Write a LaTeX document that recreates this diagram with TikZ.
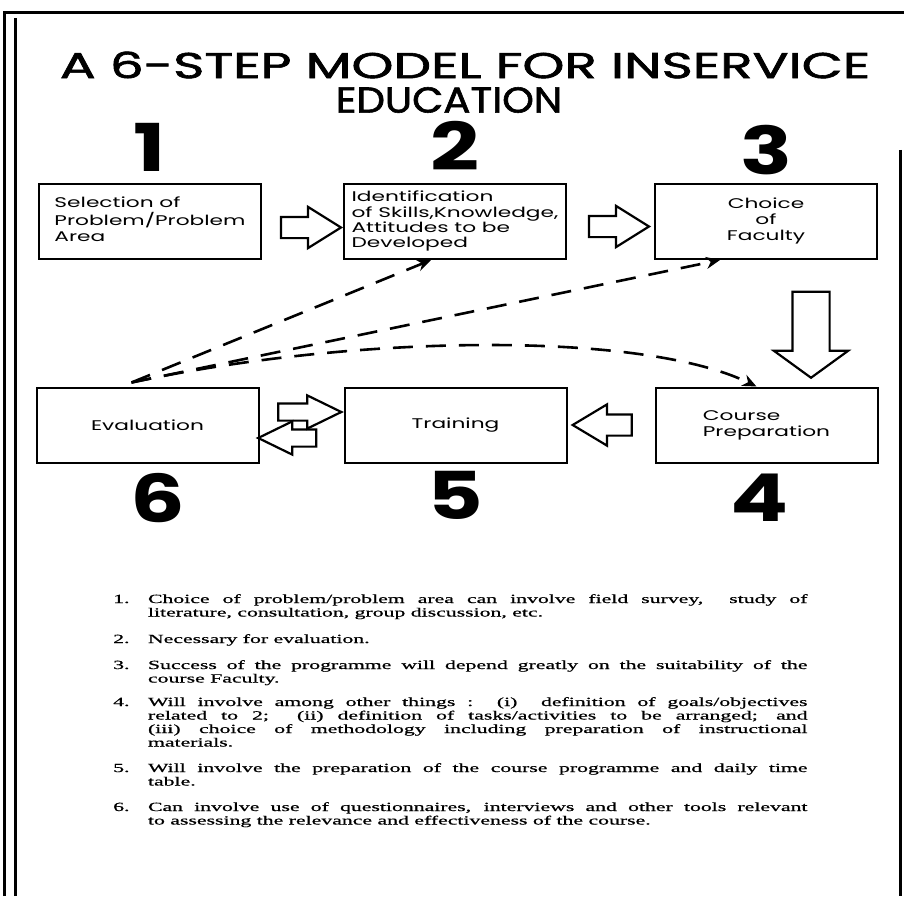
\documentclass[tikz,border=0pt]{standalone}
\usepackage{fontspec}
\setmainfont{Liberation Serif}
\setsansfont{Poppins}
\newfontfamily\headfont[FakeBold=1.6]{Poppins}
\newfontfamily\notefont[FakeBold=0.6]{Liberation Serif}
\usetikzlibrary{positioning,calc,shapes.arrows,arrows.meta}

\newcommand{\wide}[2][1.55]{\scalebox{#1}[1]{#2}}
\newcommand{\notepar}[2]{\scalebox{1.74}[1]{\parbox[t]{399pt}{\hangindent=20pt\hangafter=1\noindent\makebox[20pt][l]{#1}#2}}}

\begin{document}
\begin{tikzpicture}[x=1pt, y=-1pt,
    stage/.style={draw, line width=2pt, minimum width=222pt, minimum height=75pt, inner sep=0pt, font=\sffamily\fontsize{14}{16}\selectfont},
    stepno/.style={inner sep=0pt, font=\sffamily\bfseries\fontsize{66}{66}\selectfont},
    headline/.style={inner sep=0pt, font=\headfont\fontsize{36}{36}\selectfont},
    blockarrow/.style={single arrow, draw, line width=2.2pt, inner sep=0pt, inner ysep=9.5pt, single arrow head extend=10pt},
    feedback/.style={dash pattern=on 20pt off 13pt, line width=2.6pt, -{Stealth[length=14pt,width=12pt]}},
    frame/.style={line width=3pt},
    note/.style={anchor=base west, inner sep=0pt, font=\notefont\fontsize{12.5}{13.5}\selectfont}]

  \useasboundingbox (0,0) rectangle (904,896);

  % border of the page
  \draw[frame] (4,896) -- (4,13) -- (904,13);
  \draw[frame] (15,896) -- (15,18);
  \draw[frame] (900,150) -- (900,896);

  % title
  \node[headline] (title1) at (465,65)  {\wide[1.48]{A 6-STEP MODEL FOR INSERVICE}};
  \node[headline] (title2) at (449,100) {\wide[1.12]{EDUCATION}};

  % the six stages
  \node[stage] (sel) at (150,221.5) {\wide{\begin{tabular}{@{}l@{}}Selection of\\Problem/Problem\\Area\end{tabular}}};
  \node[stage, right=81pt of sel, font=\sffamily\fontsize{14}{15}\selectfont] (ident) {\wide{\begin{tabular}{@{}l@{}}Identification\\of Skills,Knowledge,\\Attitudes to be\\Developed\end{tabular}}};
  \node[stage, right=87pt of ident] (fac) {\wide{\begin{tabular}{@{}c@{}}Choice\\of\\Faculty\end{tabular}}};

  \node[stage] (eval) at (147.5,425) {\wide{Evaluation}};
  \node[stage, right=84pt of eval] (train) {\wide{Training}};
  \node[stage, right=87pt of train] (prep) {\wide{\begin{tabular}{@{}l@{}}Course\\Preparation\end{tabular}}};

  % step numbers
  \node[stepno, above=11pt of sel]   (no1) {\wide[1.3]{1}};
  \node[stepno, above=12pt of ident] (no2) {\wide[1.3]{2}};
  \node[stepno, above=8pt of fac]    (no3) {\wide[1.3]{3}};
  \node[stepno, below=10pt of eval, xshift=10pt]  (no6) {\wide[1.3]{6}};
  \node[stepno, below=8pt of train]  (no5) {\wide[1.3]{5}};
  \node[stepno, below=10pt of prep, xshift=-7pt]  (no4) {\wide[1.3]{4}};

  % block arrows between the stages
  \node[blockarrow, minimum height=60pt, single arrow tip angle=64] (a12) at ($(sel.east)!0.5!(ident.west)+(0,6)$) {};
  \node[blockarrow, minimum height=60pt, single arrow tip angle=64] (a23) at ($(ident.east)!0.5!(fac.west)+(0,5)$) {};
  \node[blockarrow, minimum height=86pt, inner ysep=17.5pt, single arrow head extend=18.5pt, single arrow tip angle=108, rotate=-90] (a34) at (811,328) {};
  \node[blockarrow, minimum height=59pt, single arrow tip angle=62, rotate=180] (a45) at ($(train.east)!0.5!(prep.west)$) {};
  \node[blockarrow, minimum height=63pt, inner ysep=7.5pt, single arrow head extend=8pt, single arrow tip angle=52] (a65) at (301,412) {};
  \node[blockarrow, minimum height=58pt, inner ysep=7.5pt, single arrow head extend=8pt, single arrow tip angle=52, rotate=180] (a56) at (296,438) {};

  % feedback from evaluation
  \coordinate (src) at ([xshift=-16pt,yshift=4pt]eval.north);
  \draw[feedback] (src) -- ([xshift=-24pt]ident.south);
  \draw[feedback] (src) -- ([xshift=-46pt]fac.south);
  \draw[feedback] (src) .. controls (350,335) and (640,330) .. ([xshift=-10pt]prep.north);

  % notes
  \node[note] (note1) at (113,603) {\notepar{1.}{Choice of problem/problem area can involve field survey,\ \ study of\linebreak literature, consultation, group discussion, etc.}};
  \node[note] (note2) at (113,643) {\notepar{2.}{Necessary for evaluation.}};
  \node[note] (note3) at (113,669) {\notepar{3.}{Success of the programme will depend greatly on the suitability of the\linebreak course Faculty.}};
  \node[note] (note4) at (113,706) {\notepar{4.}{Will involve among other things :\ \ (i)\ \ definition of goals/objectives\linebreak related to 2;\ \ (ii) definition of tasks/activities to be arranged; and\linebreak (iii) choice of methodology including preparation of instructional\linebreak materials.}};
  \node[note] (note5) at (113,772) {\notepar{5.}{Will involve the preparation of the course programme and daily time\linebreak table.}};
  \node[note] (note6) at (113,811) {\notepar{6.}{Can involve use of questionnaires, interviews and other tools relevant\linebreak to assessing the relevance and effectiveness of the course.}};

\end{tikzpicture}
\end{document}
